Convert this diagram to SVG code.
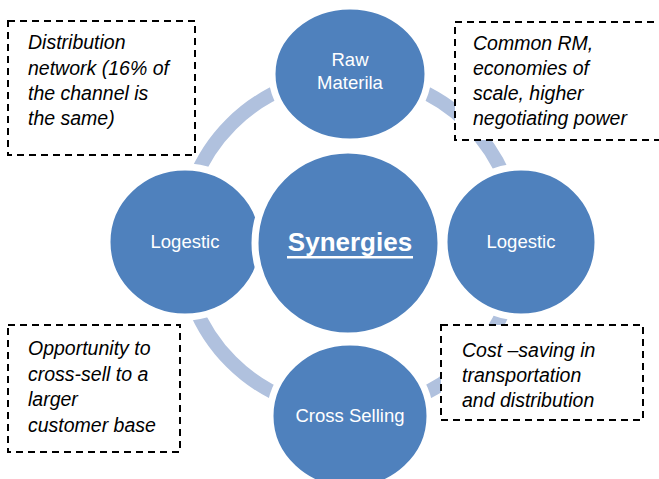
<svg xmlns="http://www.w3.org/2000/svg" width="659" height="479" viewBox="0 0 659 479">
  <defs>
    <style>
      .ring { fill: none; stroke: #B0C1DE; stroke-width: 14; }
      .node { fill: #4F81BD; stroke: #FFFFFF; stroke-width: 7; }
      .label { font-family: "Liberation Sans", Arial, sans-serif; font-size: 18.5px; fill: #FFFFFF; text-anchor: middle; }
      .hub { font-family: "Liberation Sans", Arial, sans-serif; font-size: 26px; font-weight: bold; fill: #FFFFFF; text-anchor: middle; }
      .note { fill: #FFFFFF; stroke: #000000; stroke-width: 2; stroke-dasharray: 7 5; }
      .note-text { font-family: "Liberation Sans", Arial, sans-serif; font-size: 19.5px; font-style: italic; fill: #000000; }
    </style>
    <clipPath id="clip-rm">
      <rect x="456" y="23" width="210" height="106"/>
    </clipPath>
  </defs>

  <rect width="659" height="479" fill="#FFFFFF"/>

  <!-- cycle ring linking the outer nodes -->
  <g id="connectors">
    <circle class="ring" cx="350" cy="243" r="168"/>
  </g>

  <!-- outer nodes -->
  <g id="node-raw-material">
    <ellipse class="node" cx="350" cy="74" rx="78" ry="68"/>
    <text class="label" x="350" y="66">Raw</text>
    <text class="label" x="350" y="89">Materila</text>
  </g>
  <g id="node-logistic-left">
    <ellipse class="node" cx="185" cy="242" rx="78" ry="75"/>
    <text class="label" x="185" y="248">Logestic</text>
  </g>
  <g id="node-logistic-right">
    <ellipse class="node" cx="521" cy="242" rx="77" ry="75"/>
    <text class="label" x="521" y="248">Logestic</text>
  </g>
  <g id="node-cross-selling">
    <ellipse class="node" cx="350" cy="416" rx="80" ry="74"/>
    <text class="label" x="350" y="422">Cross Selling</text>
  </g>

  <!-- central hub -->
  <g id="node-synergies">
    <circle class="node" cx="348" cy="243" r="93" stroke-width="0"/>
    <text class="hub" x="350" y="251">Synergies</text>
    <rect x="287" y="256" width="126" height="2.5" fill="#FFFFFF"/>
  </g>

  <!-- annotation boxes -->
  <g id="note-distribution">
    <rect class="note" x="8" y="21" width="187" height="134"/>
    <text class="note-text" x="28" y="49">Distribution</text>
    <text class="note-text" x="28" y="75">network (16% of</text>
    <text class="note-text" x="28" y="100">the channel is</text>
    <text class="note-text" x="28" y="125">the same)</text>
  </g>

  <g id="note-common-rm">
    <rect class="note" x="455" y="22" width="230" height="118"/>
    <g clip-path="url(#clip-rm)">
      <text class="note-text" x="473" y="50">Common RM,</text>
      <text class="note-text" x="473" y="75">economies of</text>
      <text class="note-text" x="473" y="100">scale, higher</text>
      <text class="note-text" x="473" y="125">negotiating power</text>
    </g>
  </g>

  <g id="note-cross-sell">
    <rect class="note" x="8" y="325" width="172" height="127"/>
    <text class="note-text" x="28" y="355">Opportunity to</text>
    <text class="note-text" x="28" y="381">cross-sell to a</text>
    <text class="note-text" x="28" y="406">larger</text>
    <text class="note-text" x="28" y="432">customer base</text>
  </g>

  <g id="note-cost-saving">
    <rect class="note" x="441" y="325" width="202" height="95"/>
    <text class="note-text" x="462" y="357">Cost –saving in</text>
    <text class="note-text" x="462" y="382">transportation</text>
    <text class="note-text" x="462" y="407">and distribution</text>
  </g>
</svg>
